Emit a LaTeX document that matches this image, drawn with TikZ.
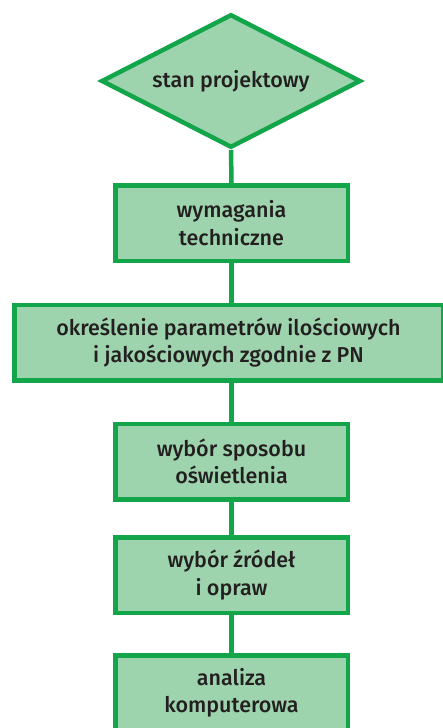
\documentclass[tikz,border=0pt]{standalone}
\usepackage{fontspec}
\setmainfont{Fira Sans}[UprightFont={* Medium}]
\usetikzlibrary{shapes.geometric}
\definecolor{boxfill}{HTML}{9DD3AD}
\definecolor{boxline}{HTML}{12A54A}
\definecolor{txt}{HTML}{231F20}
\tikzset{
  stepbox/.style={rectangle, draw=boxline, fill=boxfill, line width=4.5pt,
    minimum width=232.5pt, minimum height=75.5pt, inner sep=2pt,
    align=center, text=txt, font=\fontsize{21.5}{27.5}\selectfont},
  startbox/.style={diamond, draw=boxline, fill=boxfill, line width=4.5pt,
    minimum width=259.5pt, minimum height=133.5pt, aspect=1.9, inner sep=2pt,
    align=center, text=txt, font=\fontsize{21.5}{27.5}\selectfont},
  link/.style={draw=boxline, line width=4.5pt}
}
\begin{document}
\begin{tikzpicture}[x=1pt,y=-1pt]
\useasboundingbox (0,0) rectangle (443,728);
\clip (0,0) rectangle (443,728);
\node[startbox] (d) at (231,81) {stan projektowy};
\node[stepbox] (b1) at (231.5,223) {wymagania\\techniczne};
\node[stepbox, minimum width=428.5pt] (b2) at (228.5,342.5) {określenie parametrów ilościowych\\i jakościowych zgodnie z PN};
\node[stepbox] (b3) at (231.5,461.5) {wybór sposobu\\oświetlenia};
\node[stepbox] (b4) at (231.5,575) {wybór źródeł\\i opraw};
\node[stepbox] (b5) at (231.5,693) {analiza\\komputerowa};
\draw[link] (d.south) -- (b1.north);
\draw[link] (b1.south) -- (b1.south |- b2.north);
\draw[link] (b1.south |- b2.south) -- (b3.north);
\draw[link] (b3.south) -- (b4.north);
\draw[link] (b4.south) -- (b5.north);
\end{tikzpicture}
\end{document}
